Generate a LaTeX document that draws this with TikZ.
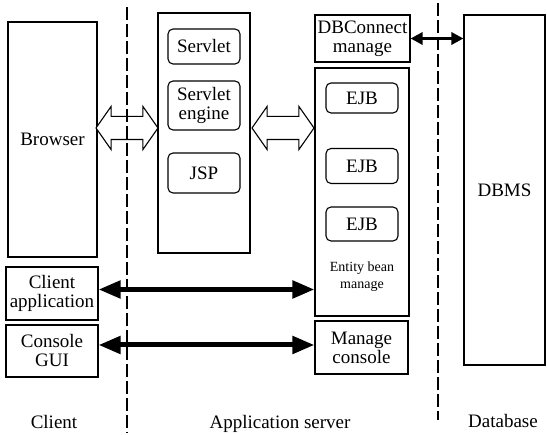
\documentclass[tikz,border=0pt]{standalone}
\usepackage{fontspec}
\setmainfont{Liberation Serif}
\usetikzlibrary{positioning}
\usetikzlibrary{arrows.meta}
\usetikzlibrary{shapes.arrows}

\begin{document}
\begin{tikzpicture}[x=1pt,y=-1pt,
        font=\fontsize{19}{22}\selectfont,
        box/.style={draw, line width=1.1pt, align=center, inner sep=0pt},
        bean/.style={box, rounded corners=5pt, minimum width=72pt},
        hollow/.style={double arrow, draw, fill=white, line width=1.1pt,
                       inner xsep=0pt, inner ysep=11pt, minimum height=62pt,
                       double arrow head extend=10pt, double arrow tip angle=110},
        fat/.style={line width=5pt, {Triangle[length=22pt,width=17pt]}-{Triangle[length=22pt,width=17pt]}},
        slim/.style={line width=3pt, {Triangle[length=12pt,width=12pt]}-{Triangle[length=12pt,width=12pt]}},
        tier/.style={line width=2pt, dash pattern=on 13pt off 4pt}]
        % \draw[help lines] (0,0) grid (547,435);
      \useasboundingbox (0,0) rectangle (547,435);

      \node[box, minimum width=89pt, minimum height=235pt]    (browser) at (52.5,139.5) {Browser};
      \node[box, minimum width=92pt, minimum height=53pt]     (client)  at (52,293.5) {Client\\[-3pt]application};
      \node[box, minimum width=92pt, minimum height=52pt]     (gui)     at (52,351) {Console\\[-3pt]GUI};

      \node[box, minimum width=92pt, minimum height=240pt]    (web)     at (204,133) {};
      \node[bean, minimum height=35pt]                        (servlet) at (204,46.5) {Servlet};
      \node[bean, minimum height=49pt]                        (engine)  at (204,105.5) {Servlet\\[-3pt]engine};
      \node[bean, minimum height=40pt]                        (jsp)     at (204,173) {JSP};

      \node[box, minimum width=95pt, minimum height=47pt]     (dbconn)  at (362.5,38.5) {DBConnect\\[-3pt]manage};
      \node[box, minimum width=94pt, minimum height=248pt]    (ejbs)    at (362,192) {};
      \node[bean, minimum height=30pt]                        (ejb_1)   at (362,98) {EJB};
      \node[bean, minimum height=35pt]                        (ejb_2)   at (362,166) {EJB};
      \node[bean, minimum height=34pt]                        (ejb_3)   at (362,224) {EJB};
      \node[align=center, font=\fontsize{14}{17}\selectfont]  (entity)  at (362,277) {Entity bean\\manage};
      \node[box, minimum width=93pt, minimum height=53pt]     (console) at (361.5,347.5) {Manage\\[-3pt]console};

      \node[box, minimum width=81pt, minimum height=350pt]    (dbms)    at (504.5,190) {DBMS};

      \node (l_client) at (54,422)  {Client};
      \node (l_app)    at (280,424) {Application server};
      \node (l_db)     at (503,421) {Database};

      \node[hollow] (h_1) at (127,128) {};
      \node[hollow] (h_2) at (283,128) {};

      \coordinate (t_1) at (127,7);
      \coordinate (b_1) at (127,433);
      \coordinate (t_2) at (438,3);
      \coordinate (b_2) at (438,420);
      \draw[tier] (t_1) -- (b_1);
      \draw[tier] (t_2) -- (b_2);

      \draw[fat]  ([yshift=4pt]client.east) -- ([yshift=4pt]client.east -| ejbs.west);
      \draw[fat]  ([yshift=6pt]gui.east)    -- ([yshift=6pt]gui.east -| console.west);
      \draw[slim] (dbconn.east) -- (dbconn.east -| dbms.west);
    \end{tikzpicture}
\end{document}
